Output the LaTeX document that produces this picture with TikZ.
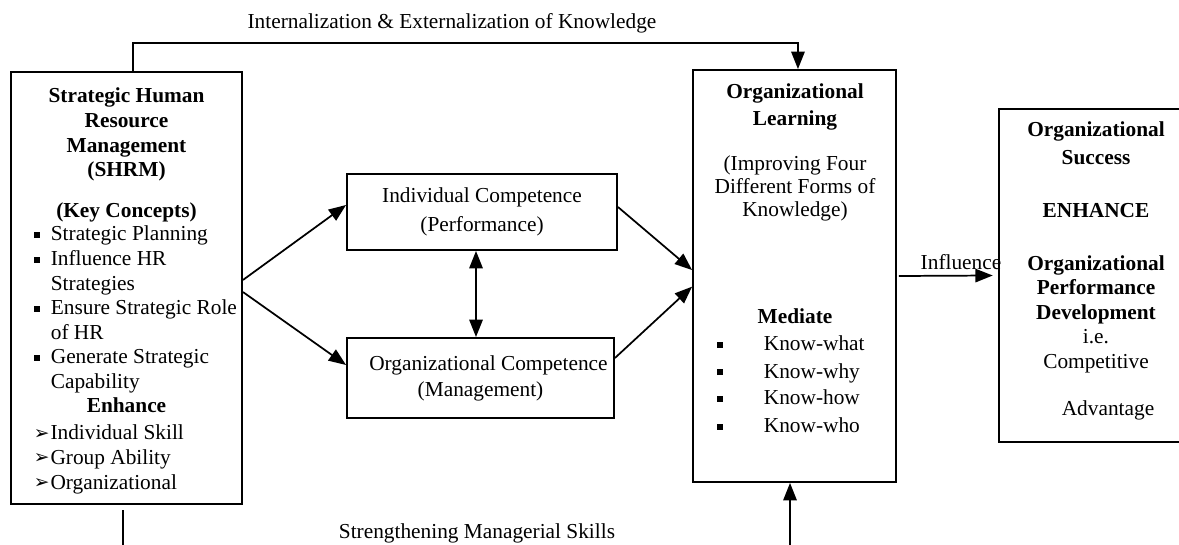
\documentclass[tikz,border=0pt]{standalone}
\usepackage{fontspec}
\setmainfont{Liberation Serif}
\newfontfamily\symbfont{DejaVu Sans}
\usetikzlibrary{arrows.meta}
\newcommand{\sqbul}{\raisebox{2.25pt}{\rule{4.5pt}{4.5pt}}}
\newcommand{\arbul}{\makebox[12.5pt][l]{\raisebox{0.5pt}{\symbfont\fontsize{14}{14}\selectfont ➢}}}
\tikzset{
  box/.style={draw, line width=1.4pt, inner sep=0pt},
  txt/.style={inner sep=0pt, anchor=base},
}
\begin{document}
\begin{tikzpicture}[x=0.75pt,y=-0.75pt,line width=1.3pt,>={Triangle[length=13pt,width=10pt]},font=\fontsize{16}{18.4}\selectfont]
\useasboundingbox (0,0) rectangle (1179,545);
% boxes
\node[box, minimum width=173.25pt, minimum height=324pt] (shrm) at (126.5,288) {};
\node[box, minimum width=152.25pt, minimum height=309pt] (ol) at (794.5,276) {};
\node[box, minimum width=139.5pt, minimum height=249.75pt] (os) at (1092,275.5) {};
\node[box, minimum width=202.5pt, minimum height=57pt, align=center] (ic) at (482,212)
  {Individual Competence\\[3.4pt](Performance)};
\node[box, minimum width=200.25pt, minimum height=60pt, align=center] (oc) at (480.5,378)
  {\hspace{12pt}Organizational Competence\\[1pt](Management)};
% SHRM text
\node[txt] (shrmhead) at (126.5,103) {\begin{tabular}[t]{@{}c@{}}
  \bfseries Strategic Human\\ \bfseries Resource\\ \bfseries Management\\ \bfseries (SHRM)\\[12.5pt]
  \bfseries (Key Concepts)\end{tabular}};
\node[txt, anchor=base west] (shrmkeys) at (33,241) {\begin{tabular}[t]{@{}l@{\hspace{8.25pt}}l@{}}
  \sqbul & Strategic Planning\\
  \sqbul & Influence HR\\
         & Strategies\\
  \sqbul & Ensure Strategic Role\\
         & of HR\\
  \sqbul & Generate Strategic\\
         & Capability\end{tabular}};
\node[txt] (shrmenh) at (126.5,413) {\bfseries Enhance};
\node[txt, anchor=base west] (shrmskills) at (33,440) {\begin{tabular}[t]{@{}l@{}l@{}}
  \arbul & Individual Skill\\
  \arbul & Group Ability\\
  \arbul & Organizational\end{tabular}};
% OL text
\node[txt] (olhead) at (795,99) {\begin{tabular}[t]{@{}c@{}}
  \bfseries Organizational\\[1.5pt] \bfseries Learning\\[15pt]
  (Improving Four\\[-0.8pt] Different Forms of\\[-0.8pt] Knowledge)\end{tabular}};
\node[txt] (olmed) at (795,324) {\bfseries Mediate};
\node[txt, anchor=base west] (ollist) at (716,351) {\begin{tabular}[t]{@{}l@{\hspace{30.75pt}}l@{}}
  \sqbul & Know-what\\[2pt]
  \sqbul & Know-why\\[1.5pt]
  \sqbul & Know-how\\[2.5pt]
  \sqbul & Know-who\end{tabular}};
% OS text
\node[txt] (ostxt) at (1096,137) {\begin{tabular}[t]{@{}c@{}}
  \bfseries Organizational\\[1.9pt] \bfseries Success\\[21.4pt]
  \bfseries ENHANCE\\[21.4pt]
  \bfseries Organizational\\ \bfseries Performance\\ \bfseries Development\\
  i.e.\\ Competitive\\[16.9pt]
  \hspace{18pt}Advantage\end{tabular}};
% labels
\node[txt] (lint) at (452,29) {Internalization \& Externalization of Knowledge};
\node[txt] (lstr) at (477,538) {Strengthening Managerial Skills};
\node[txt] (linf) at (961,270) {Influence};
% connectors
\draw[->] ([xshift=5pt]shrm.north) -- ++(0,-28) -| ([xshift=2.6pt]ol.north);
\draw[->] ([yshift=6pt]shrm.east) -- ([yshift=5.25pt]ic.west);
\draw[->] ([yshift=-3pt]shrm.east) -- ([yshift=9.75pt]oc.west);
\draw[<->] ([xshift=-4.5pt]ic.south) -- ([xshift=-4.5pt]ic.south |- oc.north);
\draw[->] ([yshift=3.75pt]ic.east) -- ([yshift=4.5pt]ol.west);
\draw[->] ([yshift=15pt]oc.east) -- ([yshift=-8pt]ol.west);
\draw[->] ([xshift=1.5pt]ol.east) -- ([xshift=-4pt]os.west);
\coordinate (lowL) at (123,548);
\coordinate (lowR) at (790,548);
\draw ([yshift=-4pt]lowL |- shrm.south) -- (lowL);
\draw[->] (lowR) -- (lowR |- ol.south);
\end{tikzpicture}
\end{document}
